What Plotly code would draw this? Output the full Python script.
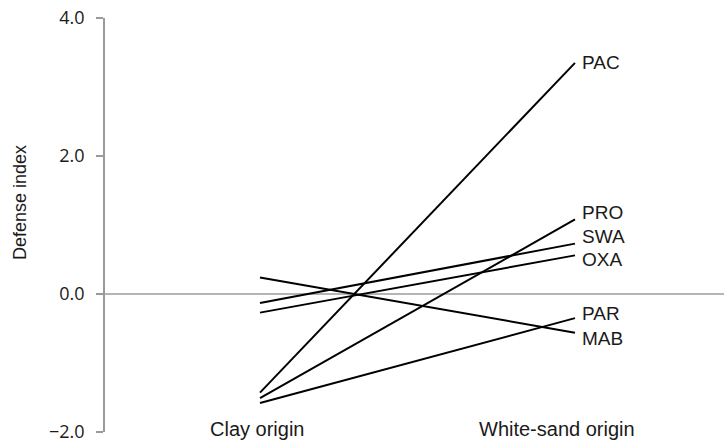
import plotly.graph_objects as go

# Defense index by habitat of origin
origins = ["Clay origin", "White-sand origin"]
groups = ["PAC", "PRO", "SWA", "OXA", "PAR", "MAB"]
clay = [-1.43, -1.51, -0.13, -0.27, -1.58, 0.24]
white_sand = [3.35, 1.08, 0.73, 0.56, -0.35, -0.56]
y_ticks = [-2.0, 0.0, 2.0, 4.0]

# vertical nudges (px) that keep the end labels apart
label_nudge = [0, 7, 7, -4, 5, -6]

FONT = "Liberation Sans, Arial, sans-serif"
xpos = [0, 1]

fig = go.Figure()
for name, a, b in zip(groups, clay, white_sand):
    fig.add_trace(go.Scatter(
        x=xpos, y=[a, b], mode="lines", name=name,
        line=dict(color="black", width=2), showlegend=False,
        hoverinfo="skip"))

annotations = []
for name, b, dy in zip(groups, white_sand, label_nudge):
    annotations.append(dict(
        x=xpos[1], y=b, text=name, showarrow=False, xref="x", yref="y",
        xanchor="left", yanchor="middle", xshift=5, yshift=dy,
        font=dict(family=FONT, size=19, color="#1a1a1a")))

# category labels along the bottom
for xv, lab, sh in zip(xpos, origins, [-3, -18]):
    annotations.append(dict(
        x=xv, y=y_ticks[0], text=lab, showarrow=False, xref="x", yref="y",
        xanchor="center", yanchor="middle", xshift=sh, yshift=3,
        font=dict(family=FONT, size=20, color="#1a1a1a")))

# y axis title
annotations.append(dict(
    x=-0.137, y=1.32, xref="paper", yref="y", text="Defense index",
    textangle=-90, showarrow=False, xanchor="center", yanchor="middle",
    font=dict(family=FONT, size=18, color="#1a1a1a")))

fig.update_layout(
    width=724, height=442,
    margin=dict(l=105, r=0, t=18, b=10),
    paper_bgcolor="white", plot_bgcolor="white",
    annotations=annotations,
    shapes=[dict(type="line", xref="x", yref="y", x0=0.5, x1=0.5,
                 y0=0, y1=0, ysizemode="pixel", yanchor=0,
                 line=dict(color="#aaaaaa", width=1))],
    xaxis=dict(range=[-0.492, 1.473], visible=False, fixedrange=True),
    yaxis=dict(
        range=[-2.0, 4.0], tickvals=y_ticks,
        ticktext=[("\u2212" if v < 0 else "") + f"{abs(v):.1f}" for v in y_ticks],
        showgrid=False, zeroline=True, zerolinecolor="#b5b5b5", zerolinewidth=1.5,
        showline=True, linecolor="#9a9a9a", linewidth=1.5,
        ticks="outside", ticklen=7, tickcolor="#9a9a9a", tickwidth=1.5,
        ticklabelstandoff=8, ticklabeloverflow="allow",
        tickfont=dict(family="Open Sans, Liberation Sans, sans-serif", size=18,
                      color="#1a1a1a")),
)

fig.write_html("out.html")
